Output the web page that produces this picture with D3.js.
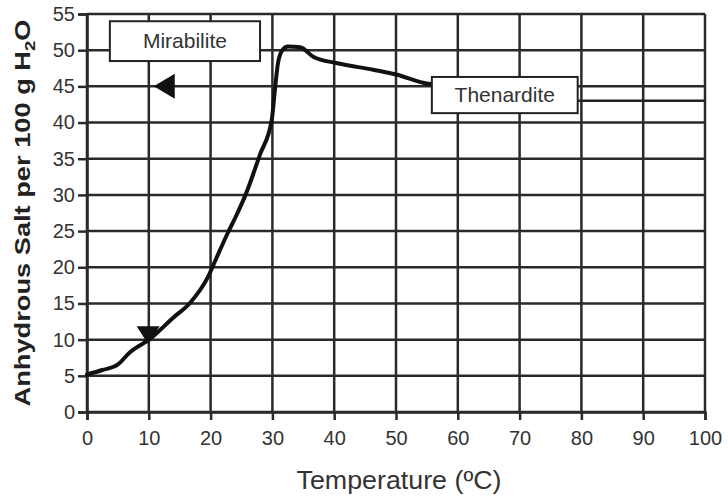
<!DOCTYPE html>
<html>
<head>
<meta charset="utf-8">
<script src="https://cdn.jsdelivr.net/npm/d3@7"></script>
<style>
  html, body { margin: 0; padding: 0; background: #fff; }
  svg { display: block; font-family: "Liberation Sans", Arial, sans-serif; }
</style>
</head>
<body>
<svg id="chart" width="728" height="498"></svg>
<script>
// ---- data ----
const xTicks = [0, 10, 20, 30, 40, 50, 60, 70, 80, 90, 100];
const yTicks = [0, 5, 10, 15, 20, 25, 30, 35, 40, 45, 50, 55];
const curveT = [0, 2.5, 4.9, 7.0, 10.2, 13.9, 16.7, 19.6, 20.7, 22.7, 24.3, 25.6, 28.0, 29.9, 30.4, 30.9, 31.6, 32.5, 34.5, 36.6, 40.5, 46.3, 50.2, 54.4, 55.8];
const curveV = [5.2, 5.8, 6.5, 8.3, 10.1, 13.0, 15.1, 18.7, 20.8, 24.6, 27.4, 29.9, 35.6, 40.4, 44.5, 48.2, 50.0, 50.5, 50.4, 49.1, 48.2, 47.3, 46.6, 45.5, 45.3];
const tailT = [79.4, 100];
const tailV = [43.0, 43.0];
const boxLabels = ["Mirabilite", "Thenardite"];
const boxX0 = [3.7, 55.8];
const boxX1 = [28.0, 79.4];
const boxY0 = [48.5, 41.3];
const boxY1 = [54.0, 46.3];
const markerT = [9.9, 12.5];
const markerV = [10.6, 45];
const markerDir = ["down", "left"];
const xLabel = "Temperature (ºC)";

// ---- layout ----
const svg = d3.select("#chart");
const m = { left: 87, top: 14, right: 23, bottom: 86 };
const W = 728 - m.left - m.right, H = 498 - m.top - m.bottom;
const x = d3.scaleLinear().domain([0, 100]).range([m.left, m.left + W]);
const y = d3.scaleLinear().domain([0, 55]).range([m.top + H, m.top]);
const gridColor = "#2a2a2a";
const textColor = "#333";

// gridlines
svg.append("g").selectAll("line.v").data(xTicks).join("line")
  .attr("x1", d => x(d)).attr("x2", d => x(d))
  .attr("y1", y(55)).attr("y2", y(0))
  .attr("stroke", gridColor).attr("stroke-width", 2.5);
svg.append("g").selectAll("line.h").data(yTicks).join("line")
  .attr("x1", x(0)).attr("x2", x(100))
  .attr("y1", d => y(d)).attr("y2", d => y(d))
  .attr("stroke", gridColor).attr("stroke-width", 2.5);

// axes
const xAxis = svg.append("g").attr("transform", `translate(0,${y(0)})`)
  .call(d3.axisBottom(x).tickValues(xTicks).tickSize(8).tickPadding(11).tickFormat(d3.format("d")));
const yAxis = svg.append("g").attr("transform", `translate(${x(0)},0)`)
  .call(d3.axisLeft(y).tickValues(yTicks).tickSize(9).tickPadding(3).tickFormat(d3.format("d")));
[xAxis, yAxis].forEach(g => {
  g.select(".domain").attr("stroke", gridColor).attr("stroke-width", 2.5);
  g.selectAll(".tick line").attr("stroke", gridColor).attr("stroke-width", 2.5);
  g.selectAll("text").attr("fill", textColor).style("font-size", "20px")
    .style("font-family", "'Liberation Sans', Arial, sans-serif");
});

// tail line after Thenardite
svg.append("path")
  .datum(d3.zip(tailT, tailV))
  .attr("d", d3.line().x(d => x(d[0])).y(d => y(d[1])))
  .attr("fill", "none").attr("stroke", "#222").attr("stroke-width", 2.5);

// curve
svg.append("path")
  .datum(d3.zip(curveT, curveV))
  .attr("d", d3.line().x(d => x(d[0])).y(d => y(d[1])).curve(d3.curveMonotoneX))
  .attr("fill", "none").attr("stroke", "#111").attr("stroke-width", 4)
  .attr("stroke-linejoin", "round").attr("stroke-linecap", "round");

// label boxes
boxLabels.forEach((lab, i) => {
  const x0 = x(boxX0[i]), x1 = x(boxX1[i]), y0 = y(boxY1[i]), y1 = y(boxY0[i]);
  svg.append("rect").attr("x", x0).attr("y", y0)
    .attr("width", x1 - x0).attr("height", y1 - y0)
    .attr("fill", "#fff").attr("stroke", "#222").attr("stroke-width", 2);
  svg.append("text").attr("x", (x0 + x1) / 2).attr("y", (y0 + y1) / 2 + 7)
    .attr("text-anchor", "middle").attr("fill", textColor)
    .style("font-size", "21px").text(lab);
});

// triangle markers
markerDir.forEach((dir, i) => {
  const cx = x(markerT[i]), cy = y(markerV[i]);
  let pts;
  if (dir === "down") pts = [[cx - 11.5, cy - 9], [cx + 11.5, cy - 9], [cx, cy + 9]];
  else pts = [[cx - 10.5, cy], [cx + 10.5, cy - 12.5], [cx + 10.5, cy + 12.5]];
  svg.append("path").attr("d", "M" + pts.map(p => p.join(",")).join("L") + "Z")
    .attr("fill", "#111");
});

// axis titles
svg.append("text").attr("x", x(50) + 3).attr("y", 489)
  .attr("text-anchor", "middle").attr("fill", textColor)
  .attr("textLength", 205).attr("lengthAdjust", "spacingAndGlyphs")
  .style("font-size", "25px").text(xLabel);

const yl = svg.append("text")
  .attr("transform", "translate(30,213) rotate(-90)")
  .attr("text-anchor", "middle").attr("fill", "#222")
  .attr("textLength", 387).attr("lengthAdjust", "spacingAndGlyphs")
  .style("font-size", "22px").style("font-weight", "bold");
yl.append("tspan").text("Anhydrous Salt per 100 g H");
yl.append("tspan").attr("dy", 5).style("font-size", "15px").text("2");
yl.append("tspan").attr("dy", -5).text("O");
</script>
</body>
</html>
